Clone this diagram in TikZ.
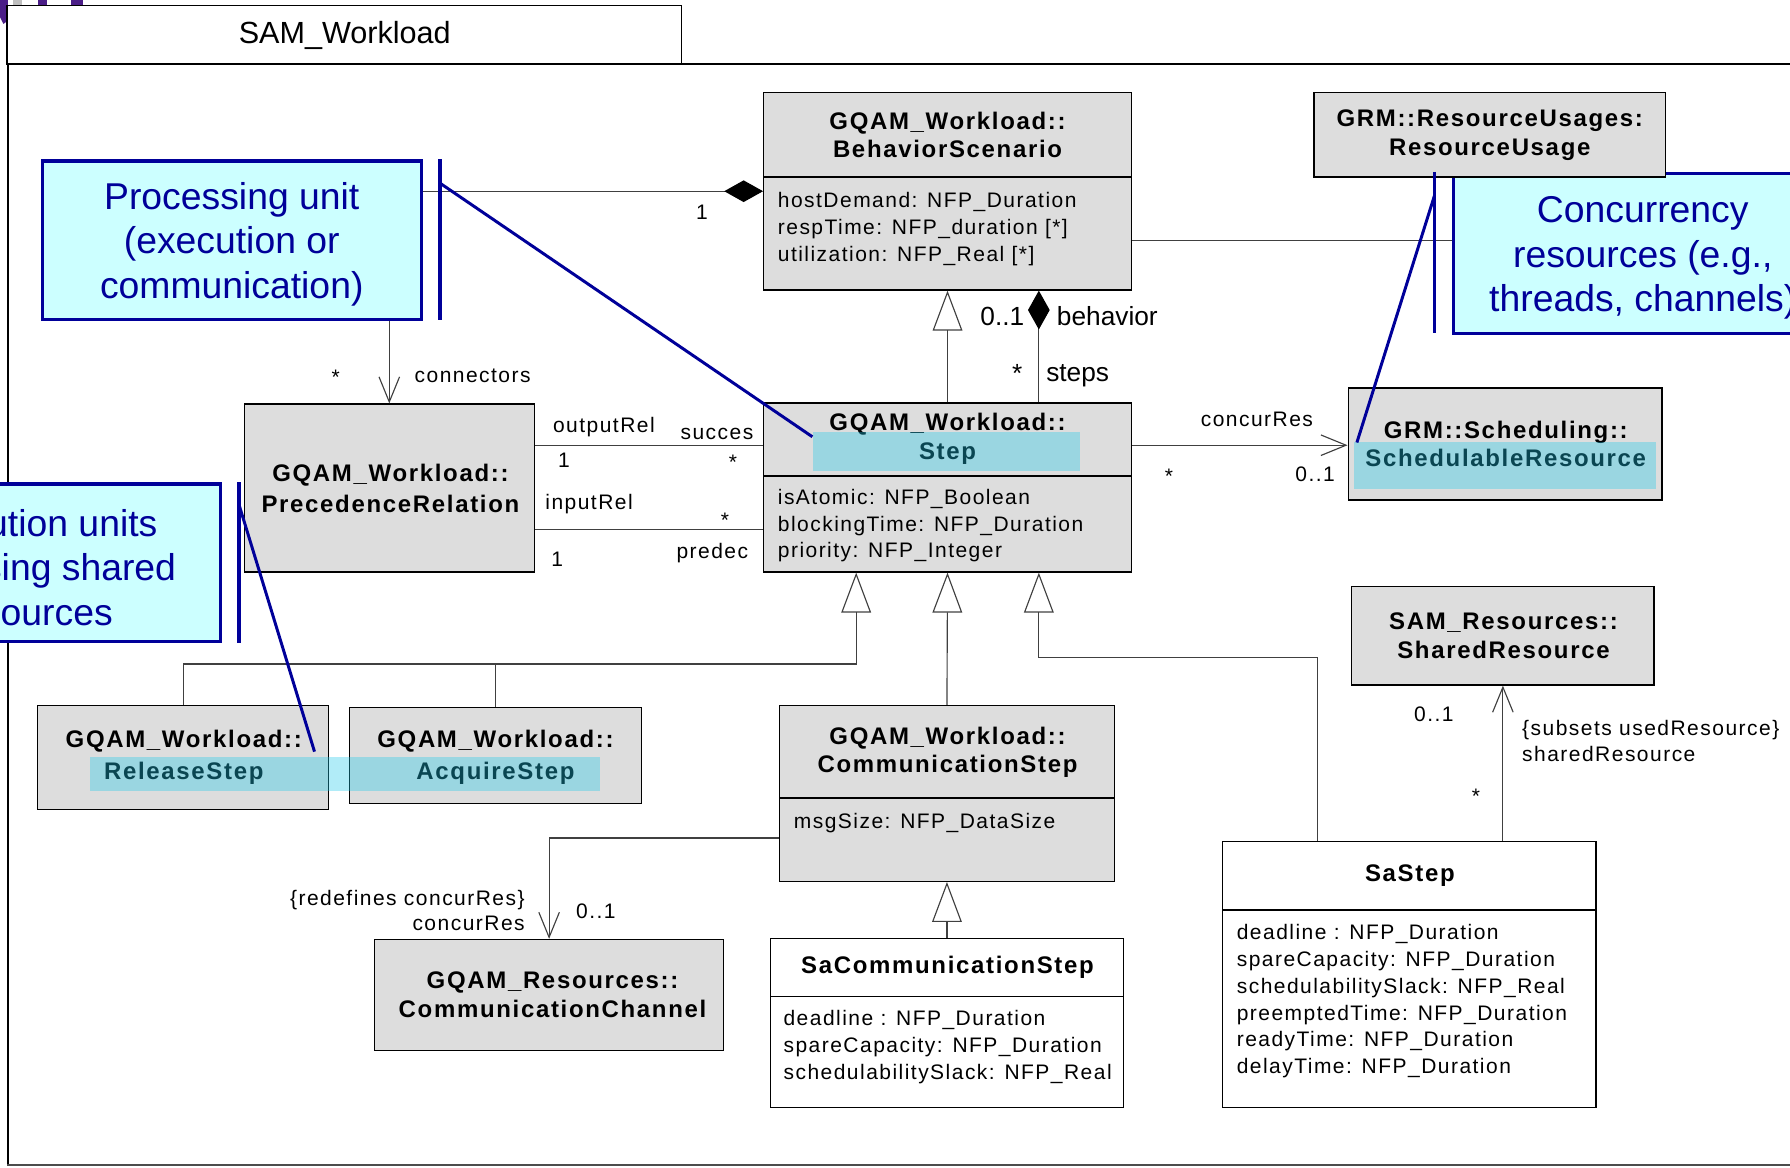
\documentclass[tikz,border=0pt]{standalone}
\usepackage{fontspec}
\setmainfont{Liberation Sans}
\newfontfamily\umlfont[LetterSpace=7]{Liberation Sans}
\usetikzlibrary{arrows.meta,fit,calc}

\definecolor{classgray}{HTML}{DDDDDD}
\definecolor{notefill}{HTML}{CCFFFF}
\definecolor{noteblue}{HTML}{000099}
\definecolor{marker}{RGB}{31,201,235}
\definecolor{linegray}{HTML}{404040}
\definecolor{logopurple}{HTML}{4B1E87}

\tikzset{
  classbox/.style={draw=black, line width=0.6pt, fill=classgray, inner sep=0pt},
  plainbox/.style={draw=black, line width=0.6pt, fill=white, inner sep=0pt},
  divider/.style={draw=black, line width=0.6pt},
  ctitle/.style={font=\umlfont\bfseries\fontsize{10.5}{12.5}\selectfont, align=center, inner sep=0pt},
  cattr/.style={font=\umlfont\fontsize{9.2}{11.75}\selectfont, align=left, anchor=west, inner sep=0pt},
  lbl/.style={font=\umlfont\fontsize{9.2}{10}\selectfont, inner sep=0pt, text height=0.72em, text depth=0pt},
  biglbl/.style={font=\fontsize{11.5}{13}\selectfont, inner sep=0pt, text height=0.72em, text depth=0pt},
  conn/.style={draw=linegray, line width=0.5pt},
  gen/.style={conn, -{Triangle[open, length=17.5pt, width=13pt]}},
  nav/.style={conn, -{Straight Barb[length=11pt, width=9pt]}},
  comp/.style={conn, -{Diamond[length=17pt, width=9.5pt, fill=black, color=black]}},
  note/.style={draw=noteblue, line width=1.5pt, fill=notefill, inner sep=0pt},
  notetext/.style={font=\fontsize{16.35}{19.5}\selectfont, text=noteblue, align=center, inner sep=0pt},
  notebar/.style={draw=noteblue, line width=1.5pt},
  leader/.style={draw=noteblue, line width=1.3pt},
  marked/.style={fill=marker, fill opacity=0.35, inner sep=0pt},
}

\begin{document}
\begin{tikzpicture}[x=0.5pt, y=-0.5pt]
\useasboundingbox (0,0) rectangle (1568,1023);
\clip (0,0) rectangle (1568,1023);

% remains of the logo above the package tab
\fill[logopurple] (0,0) -- (7,0) -- (7,18) -- (3,21) -- (0,15) -- cycle;
\fill[black!25] (11,0) rectangle (19,4);
\fill[logopurple] (33,0) rectangle (41,4);
\fill[logopurple] (62,0) rectangle (73,5);

% package frame and its tab
\node[draw=black, line width=0.6pt, inner sep=0pt, fit={(7,56) (1620,1020)}] (pkg) {};
\draw[line width=1.2pt, black!70] (pkg.south west) -- (pkg.south east);
\node[draw=black, line width=0.6pt, fill=white, inner sep=0pt, fit={(6,5) (597,56)}] (tab) {};
\node[font=\fontsize{13.4}{15}\selectfont, inner sep=0pt] (tab-text) at (302,31) {SAM\_Workload};

% notes
\node[note, fit={(37,141) (369,280)}] (pu) {};
\node[notetext] (pu-text) at (203,214) {Processing unit\\(execution or\\communication)};
\node[note, fit={(-131,424) (193,562)}] (eu) {};
\node[notetext] (eu-text) at (27,497) {Execution units\\accessing shared\\resources};
\node[note, fit={(1273,152) (1605,292)}] (conc) {};
\node[notetext] (conc-text) at (1439,226) {Concurrency\\resources (e.g.,\\threads, channels)};

% classes
\node[classbox, fit={(669,81) (991,254)}] (bs) {};
\draw[divider] (669,155) -- (991,155);
\node[ctitle] (bs-name) at (830,118) {GQAM\_Workload::\\BehaviorScenario};
\node[cattr] (bs-attr) at (681,200.5) {hostDemand: NFP\_Duration\\respTime: NFP\_duration [*]\\utilization: NFP\_Real [*]};

\node[classbox, fit={(1151,81) (1459,155)}] (ru) {};
\node[ctitle] (ru-name) at (1305,118.5) {GRM::ResourceUsages:\\ResourceUsage};

\node[classbox, fit={(669,353) (991,501)}] (step) {};
\draw[divider] (669,417) -- (991,417);
\node[ctitle] (step-name) at (830,384.5) {GQAM\_Workload::\\Step};
\node[cattr] (step-attr) at (681,460.5) {isAtomic: NFP\_Boolean\\blockingTime: NFP\_Duration\\priority: NFP\_Integer};

\node[classbox, fit={(1181,340) (1456,438)}] (sr) {};
\node[ctitle] (sr-name) at (1319,389) {GRM::Scheduling::\\SchedulableResource};

\node[classbox, fit={(214,354) (468,501)}] (pr) {};
\node[ctitle, font=\umlfont\bfseries\fontsize{10.5}{13.5}\selectfont] (pr-name) at (342,427.5) {GQAM\_Workload::\\PrecedenceRelation};

\node[classbox, fit={(33,618) (288,709)}] (rs) {};
\node[ctitle, font=\umlfont\bfseries\fontsize{10.5}{14}\selectfont] (rs-name) at (161,663) {GQAM\_Workload::\\ReleaseStep};

\node[classbox, fit={(306,620) (562,704)}] (as) {};
\node[ctitle, font=\umlfont\bfseries\fontsize{10.5}{14}\selectfont] (as-name) at (434,663) {GQAM\_Workload::\\AcquireStep};

\node[classbox, fit={(683,618) (976,772)}] (cs) {};
\draw[divider] (683,699) -- (976,699);
\node[ctitle] (cs-name) at (830,659) {GQAM\_Workload::\\CommunicationStep};
\node[cattr] (cs-attr) at (695,721) {msgSize: NFP\_DataSize};

\node[classbox, fit={(328,823) (634,920)}] (cc) {};
\node[ctitle] (cc-name) at (484,871.5) {GQAM\_Resources::\\CommunicationChannel};

\node[plainbox, fit={(675,822) (984,970)}] (scs) {};
\draw[divider] (675,873) -- (984,873);
\node[ctitle] (scs-name) at (830,847) {SaCommunicationStep};
\node[cattr] (scs-attr) at (686,917) {deadline : NFP\_Duration\\spareCapacity: NFP\_Duration\\schedulabilitySlack: NFP\_Real};

\node[classbox, fit={(1184,514) (1449,600)}] (shr) {};
\node[ctitle] (shr-name) at (1317,557) {SAM\_Resources::\\SharedResource};

\node[plainbox, fit={(1071,737) (1398,970)}] (sastep) {};
\draw[divider] (1071,797) -- (1398,797);
\node[ctitle] (sastep-name) at (1235,767) {SaStep};
\node[cattr] (sastep-attr) at (1083,877) {deadline : NFP\_Duration\\spareCapacity: NFP\_Duration\\schedulabilitySlack: NFP\_Real\\preemptedTime: NFP\_Duration\\readyTime: NFP\_Duration\\delayTime: NFP\_Duration};

% associations and generalizations
\draw[comp] (pu.east |- bs.west) -- (bs.west);
\draw[gen] (step.north) -- (bs.south);
\draw[comp] ($(step.north)+(80,0)$) -- ($(bs.south)+(80,0)$);
\draw[conn] ($(bs.east)+(0,43.5)$) coordinate (bsru) -- (bsru -| conc.west);
\draw[nav] (pr.north |- pu.south) -- (pr.north);
\draw[conn] ($(pr.east)+(0,-37.5)$) coordinate (outrel) -- (outrel -| step.west);
\draw[conn] ($(pr.east)+(0,36.5)$) coordinate (inrel) -- (inrel -| step.west);
\draw[nav] ($(step.east)+(0,-37)$) coordinate (concur) -- (concur -| sr.west);
\coordinate (joinrel) at ($(step.south)+(-80,80)$);
\draw[gen] (rs.north) |- (joinrel) -- ($(step.south)+(-80,0)$);
\draw[conn] (as.north) -- (as.north |- joinrel);
\draw[gen] (cs.north) -- (step.south);
\draw[gen] ($(sastep.north)+(-80.5,0)$) |- ($(step.south)+(80,74)$) -- ($(step.south)+(80,0)$);
\draw[gen] (scs.north) -- (cs.south);
\draw[nav] ($(cs.west)+(0,39)$) -| (cc.north);
\draw[nav] (shr.south |- sastep.north) -- (shr.south);

% role names and multiplicities
\node[lbl] (m-pu) at (615,185) {1};
\node[biglbl] (m-beh) at (878,278) {0..1};
\node[biglbl] (r-beh) at (970,278) {behavior};
\node[biglbl] (m-steps) at (891,328) {*};
\node[biglbl] (r-steps) at (944,327) {steps};
\node[lbl] (m-conn) at (294,330) {*};
\node[lbl] (r-conn) at (414,328) {connectors};
\node[lbl] (r-out) at (529,372) {outputRel};
\node[lbl] (r-succ) at (628,378) {succes};
\node[lbl] (m-out) at (494,402) {1};
\node[lbl] (m-succ) at (642,404) {*};
\node[lbl] (r-in) at (516,439) {inputRel};
\node[lbl] (m-pred) at (635,455) {*};
\node[lbl] (m-in) at (488,489) {1};
\node[lbl] (r-pred) at (624,482) {predec};
\node[lbl] (r-concur) at (1101,366) {concurRes};
\node[lbl] (m-concur-a) at (1024,416) {*};
\node[lbl] (m-concur-b) at (1152,415) {0..1};
\node[lbl, anchor=east] (c-redef) at (460,786) {\{redefines concurRes\}};
\node[lbl, anchor=east] (r-chan) at (460,808) {concurRes};
\node[lbl] (m-chan) at (522,797) {0..1};
\node[lbl] (m-shr) at (1256,625) {0..1};
\node[lbl, anchor=west] (c-subs) at (1333,637) {\{subsets usedResource\}};
\node[lbl, anchor=west] (r-shr) at (1333,660) {sharedResource};
\node[lbl] (m-sastep) at (1293,697) {*};

% highlighted class names
\node[marked, fit={(712,378) (946,413)}] (hstep) {};
\node[marked, fit={(1186,387) (1451,428)}] (hsr) {};
\node[marked, fit={(79,663) (526,693)}] (hrel) {};

% note bars and leaders
\draw[notebar] ($(pu.north east)+(15,0)$) -- ($(pu.south east)+(15,-1)$);
\draw[leader] ($(pu.north east)+(15,21)$) -- ($(hstep.north west)+(0,5)$);
\draw[notebar] ($(eu.north east)+(15,0)$) -- ($(eu.south east)+(15,0)$);
\draw[leader] ($(eu.north east)+(15,20)$) -- ($(rs.north)+(115,41)$);
\draw[notebar] ($(conc.north west)+(-15,0)$) -- ($(conc.south west)+(-15,-2)$);
\draw[leader] ($(conc.north west)+(-15,21)$) -- ($(hsr.north west)+(3,1)$);
\end{tikzpicture}
\end{document}
